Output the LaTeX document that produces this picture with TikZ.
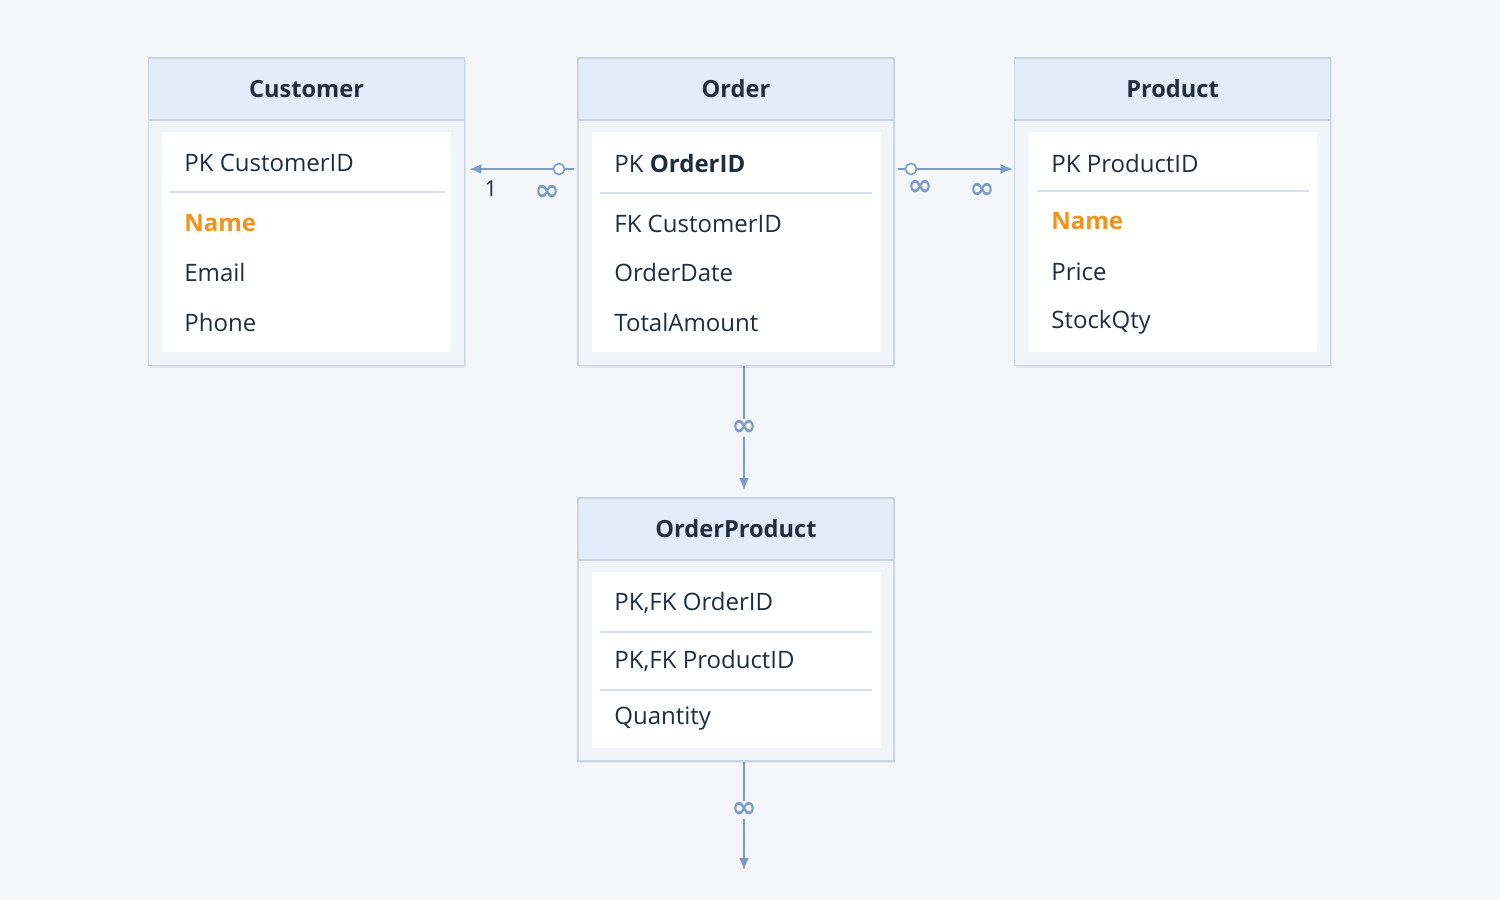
\documentclass[tikz,border=0pt]{standalone}
\usepackage{fontspec}
\setmainfont{Open Sans}
\newfontfamily\djv{DejaVu Sans}
\usetikzlibrary{shadows,arrows.meta,calc}
\definecolor{bg}{HTML}{F4F6FA}
\definecolor{hdr}{HTML}{E3EDF9}
\definecolor{bord}{HTML}{C9D5E5}
\definecolor{ln}{HTML}{7B9CC8}
\definecolor{txt}{HTML}{1F2D3D}
\definecolor{org}{HTML}{F0921E}
\definecolor{sep}{HTML}{D5DEEA}
\definecolor{boxbg}{HTML}{F1F4F9}
\begin{document}
\begin{tikzpicture}[x=0.5pt,y=-0.5pt,
  box/.style={draw=bord,fill=boxbg,line width=0.8pt,minimum width=158pt,minimum height=#1,inner sep=0,drop shadow={shadow xshift=0.6pt,shadow yshift=-1.2pt,opacity=0.15}},
  head/.style={draw=bord,fill=hdr,line width=0.8pt,minimum width=158pt,minimum height=31pt,inner sep=0,font=\fontsize{11.8}{13}\selectfont\bfseries,text=txt},
  panel/.style={fill=white,minimum width=144.5pt,minimum height=#1,inner sep=0},
  row/.style={anchor=west,inner sep=0,font=\fontsize{12}{13}\selectfont,text=txt},
  key/.style={row,text=org,font=\fontsize{12}{13}\selectfont\bfseries},
  sepl/.style={draw=sep,line width=0.7pt},
  conn/.style={draw=ln,line width=0.8pt},
  arr/.style={conn,-{Latex[length=6pt,width=5pt]}},
  inf/.style={text=ln,font=\djv\bfseries\fontsize{15}{16}\selectfont,inner sep=0.5pt},
  circ/.style={draw=ln,fill=white,circle,minimum size=5.5pt,inner sep=0,line width=0.8pt}]
\fill[bg] (0,0) rectangle (1500,900);
% Customer
\node[box=154pt] (cust) at (306.5,211.5) {};
\node[head] (custh) at (306.5,89) {Customer};
\node[panel=110pt] (custp) at (306.5,242) {};
\node[row] (c1) at (184,163) {PK CustomerID};
\draw[sepl] (170,192) -- (445,192);
\node[key] (c2) at (184,223) {Name};
\node[row] (c3) at (184,272) {Email};
\node[row] (c4) at (184,322) {Phone};
% Order
\node[box=154pt] (ord) at (736,211.5) {};
\node[head] (ordh) at (736,89) {Order};
\node[panel=110pt] (ordp) at (736,242) {};
\node[row] (o1) at (614,163) {PK \textbf{OrderID}};
\draw[sepl] (600,193) -- (872,193);
\node[row] (o2) at (614,224) {FK CustomerID};
\node[row] (o3) at (614,272) {OrderDate};
\node[row] (o4) at (614,322) {TotalAmount};
% Product
\node[box=154pt] (prod) at (1172.5,211.5) {};
\node[head] (prodh) at (1172.5,89) {Product};
\node[panel=110pt] (prodp) at (1172,242) {};
\node[row] (p1) at (1051,163) {PK ProductID};
\draw[sepl] (1037,191) -- (1309,191);
\node[key] (p2) at (1051,221) {Name};
\node[row] (p3) at (1051,272) {Price};
\node[row] (p4) at (1051,322) {StockQty};
% OrderProduct
\node[box=131.5pt] (op) at (736,629.5) {};
\node[head] (oph) at (736,529) {OrderProduct};
\node[panel=88pt] (opp) at (736,660) {};
\node[row] (q1) at (614,603) {PK,FK OrderID};
\draw[sepl] (600,632) -- (872,632);
\node[row] (q2) at (614,661) {PK,FK ProductID};
\draw[sepl] (600,690) -- (872,690);
\node[row] (q3) at (614,719) {Quantity};
% connectors
\coordinate (cend) at ($(cust.east |- o1)+(4,6)$);
\coordinate (ostart) at ($(ord.west |- o1)+(-3,6)$);
\node[circ] (k1) at (559,169) {};
\draw[conn,dash pattern=on 6pt off 3pt] (ostart) -- (k1);
\draw[arr] (k1) -- (cend);
\node[inf,font=\fontsize{11}{12}\selectfont] (l1) at (491,189) {\textcolor{txt}{1}};
\node[inf] (l2) at (547,193) {∞};
\coordinate (ostart2) at ($(ord.east |- o1)+(3,6)$);
\coordinate (pend) at ($(prod.west |- o1)+(-1,6)$);
\node[circ] (k2) at (911,169) {};
\draw[conn] (ostart2) -- (k2);
\draw[arr] (k2) -- (pend);
\node[inf] (l3) at (920,188) {∞};
\node[inf] (l4) at (982,191) {∞};
\coordinate (vend) at (744,490);
\draw[arr] (ord.south -| vend) -- (vend);
\node[inf,fill=bg] (l5) at (744,428) {∞};
\coordinate (bend) at (744,870);
\draw[arr] (op.south -| bend) -- (bend);
\node[inf,fill=bg] (l6) at (744,810) {∞};
\end{tikzpicture}
\end{document}
